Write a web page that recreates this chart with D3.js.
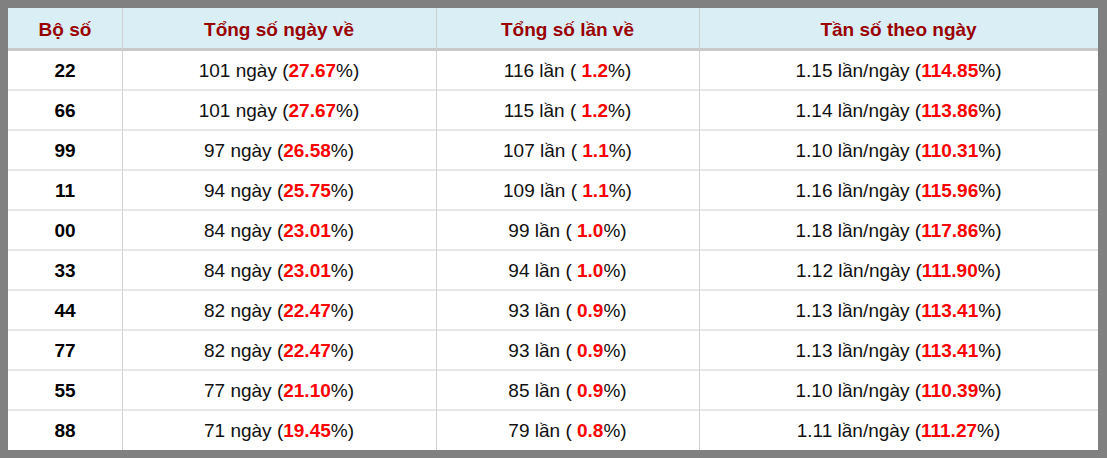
<!DOCTYPE html>
<html><head><meta charset="utf-8">
<script src="https://cdn.jsdelivr.net/npm/d3@7"></script>
<style>body{margin:0;background:#fff}text{font-family:"Liberation Sans",Arial,sans-serif}</style>
</head><body><svg id="c" width="1107" height="458"></svg>
<script>
const headers = ["Bộ số", "Tổng số ngày về", "Tổng số lần về", "Tần số theo ngày"];
const pairs = ["22","66","99","11","00","33","44","77","55","88"];
const days = [101,101,97,94,84,84,82,82,77,71];
const dayPct = ["27.67","27.67","26.58","25.75","23.01","23.01","22.47","22.47","21.10","19.45"];
const times = [116,115,107,109,99,94,93,93,85,79];
const timePct = ["1.2","1.2","1.1","1.1","1.0","1.0","0.9","0.9","0.9","0.8"];
const freq = ["1.15","1.14","1.10","1.16","1.18","1.12","1.13","1.13","1.10","1.11"];
const freqPct = ["114.85","113.86","110.31","115.96","117.86","111.90","113.41","113.41","110.39","111.27"];

const svg = d3.select("#c");
const colEdges = [8,122,436,699,1098];
const topY = 8, headH = 41, rowH = 40;
const y = d3.scaleBand().domain(d3.range(pairs.length)).range([topY+headH+1, topY+headH+1+rowH*pairs.length]);

svg.append("rect").attr("x",0).attr("y",0).attr("width",1107).attr("height",458).attr("fill","#808080");
svg.append("rect").attr("x",8).attr("y",8).attr("width",1090).attr("height",442).attr("fill","#fff");
svg.append("rect").attr("x",8).attr("y",8).attr("width",1090).attr("height",headH).attr("fill","#daeef6");
svg.append("rect").attr("x",8).attr("y",topY+headH-1).attr("width",1090).attr("height",3).attr("fill","#c8c8c8");
// row separators
svg.selectAll(".rl").data(d3.range(1,pairs.length)).join("line")
  .attr("x1",8).attr("x2",1098).attr("y1",i=>y(i)).attr("y2",i=>y(i))
  .attr("stroke","#d0d0d0").attr("stroke-width",1);
svg.selectAll(".cl").data(colEdges.slice(1,4)).join("line")
  .attr("x1",d=>d+0.5).attr("x2",d=>d+0.5).attr("y1",8).attr("y2",450)
  .attr("stroke","#d0d0d0").attr("stroke-width",1);

const cx = i => (colEdges[i]+colEdges[i+1])/2;
svg.selectAll(".h").data(headers).join("text")
  .attr("x",(d,i)=>cx(i)).attr("y",topY+headH/2+7).attr("text-anchor","middle")
  .attr("font-size",19).attr("font-weight","bold").attr("fill","#990000").text(d=>d);

function cell(col, i, parts){
  const t = svg.append("text").attr("x",cx(col)).attr("y",y(i)+rowH/2+7)
    .attr("text-anchor","middle").attr("font-size",19).attr("fill","#111");
  parts.forEach(p=>{
    const s = t.append("tspan").text(p[0]);
    if(p[1]) s.attr("fill","#ff0000").attr("font-weight","bold");
  });
  return t;
}
pairs.forEach((p,i)=>{
  cell(0,i,[[p]]).attr("font-weight","bold").attr("fill","#000");
  cell(1,i,[[days[i]+" ngày ("],[dayPct[i],1],["%)"]]);
  cell(2,i,[[times[i]+" lần ( "],[timePct[i],1],["%)"]]);
  cell(3,i,[[freq[i]+" lần/ngày ("],[freqPct[i],1],["%)"]]);
});
</script></body></html>
